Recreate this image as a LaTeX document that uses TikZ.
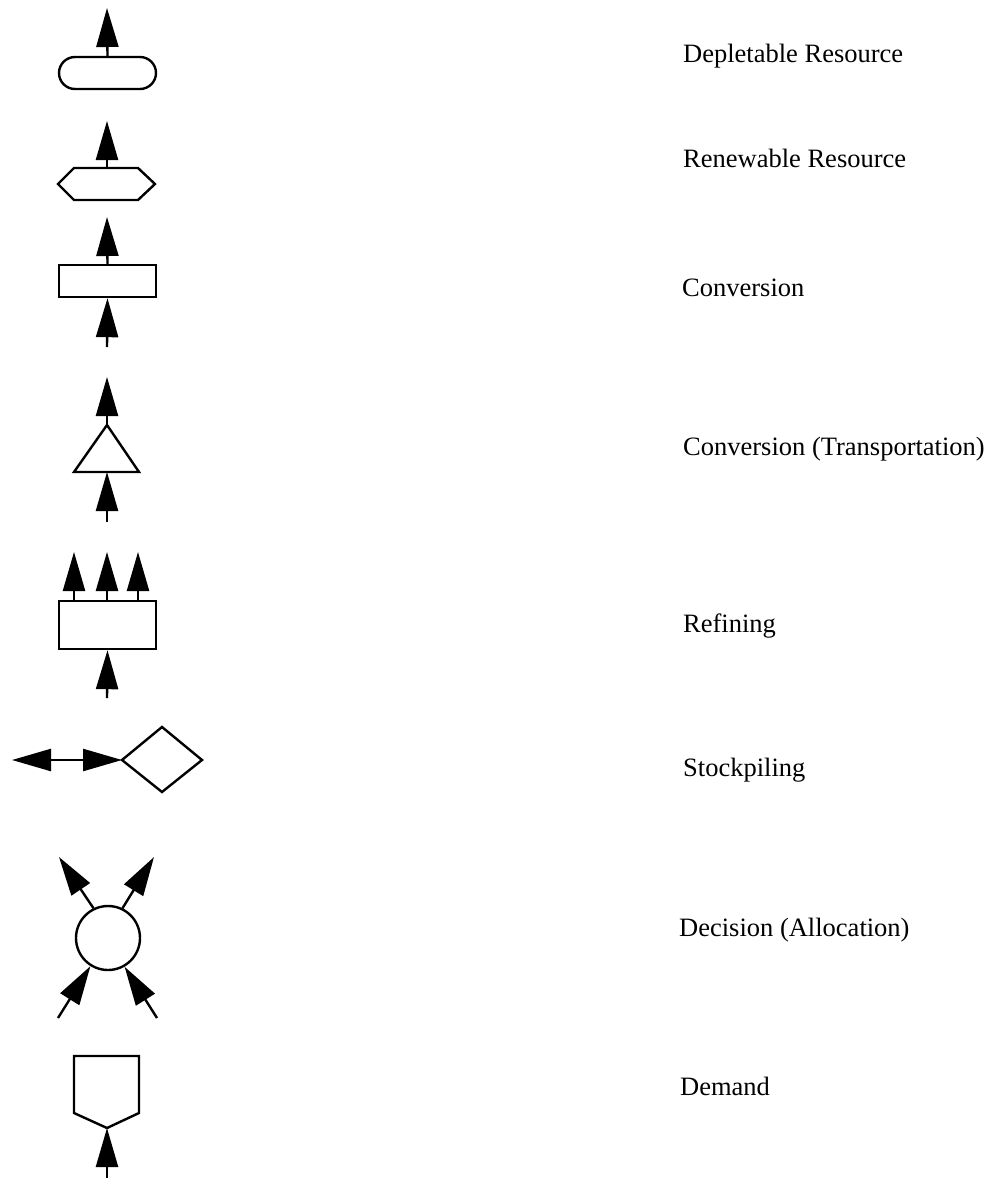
\documentclass[tikz,border=0pt]{standalone}
\usepackage{fontspec}
\setmainfont{Liberation Serif}
\usetikzlibrary{arrows.meta,shapes.misc}
\tikzset{
  shp/.style={draw=black, line width=2.4pt, fill=white, line join=miter},
  flow/.style={line width=2.4pt, -{Triangle[length=39pt,width=22pt]}},
  flowboth/.style={line width=2.4pt, {Triangle[length=39pt,width=22pt]}-{Triangle[length=39pt,width=22pt]}},
  lbl/.style={anchor=base west, inner sep=0pt, font=\fontsize{26.5}{30}\selectfont}
}
\begin{document}
\begin{tikzpicture}[x=1pt,y=-1pt]
\useasboundingbox (0,0) rectangle (993,1178);
% 1 Depletable resource
\node[shp, rounded rectangle, minimum width=97pt, minimum height=32pt, inner sep=0pt] (dep) at (107.5,73) {};
\coordinate (depout) at (107,8);
\draw[flow] (dep.north) -- (depout);
% 2 Renewable resource
\draw[shp] (58,184) -- (74,168) -- (138,168) -- (155,184) -- (138,200) -- (74,200) -- cycle;
\coordinate (rentop) at (107,168);
\coordinate (renout) at (107,121);
\draw[flow] (rentop) -- (renout);
% 3 Conversion
\node[shp, rectangle, minimum width=97pt, minimum height=32pt, inner sep=0pt] (conv) at (107.5,281) {};
\coordinate (convout) at (107,217);
\coordinate (convin) at (107,347);
\draw[flow] (conv.north) -- (convout);
\draw[flow] (convin) -- (conv.south);
% 4 Conversion (Transportation)
\draw[shp] (74,472) -- (107,425) -- (139,472) -- cycle;
\coordinate (tritop) at (107,425);
\coordinate (tribot) at (107,472);
\coordinate (triout) at (107,377);
\coordinate (triin) at (107,522);
\draw[flow] (tritop) -- (triout);
\draw[flow] (triin) -- (tribot);
% 5 Refining
\node[shp, rectangle, minimum width=97pt, minimum height=48pt, inner sep=0pt] (ref) at (107.5,625) {};
\coordinate (refoutA) at (74,552);
\coordinate (refoutB) at (107,552);
\coordinate (refoutC) at (138,552);
\coordinate (refin) at (107,698);
\draw[flow] (ref.north -| refoutA) -- (refoutA);
\draw[flow] (ref.north -| refoutB) -- (refoutB);
\draw[flow] (ref.north -| refoutC) -- (refoutC);
\draw[flow] (refin) -- (ref.south);
% 6 Stockpiling
\draw[shp] (122,760) -- (162,727) -- (202,760) -- (162,792) -- cycle;
\coordinate (stkleft) at (122,760);
\coordinate (stkend) at (12,760);
\draw[flowboth] (stkend) -- (stkleft);
% 7 Decision (Allocation)
\node[shp, circle, minimum size=64pt, inner sep=0pt] (dec) at (108,938) {};
\coordinate (decoutL) at (59,857);
\coordinate (decoutR) at (154,857);
\coordinate (decinL) at (58,1018);
\coordinate (decinR) at (157,1018);
\draw[flow] (dec.116) -- (decoutL);
\draw[flow] (dec.64) -- (decoutR);
\draw[flow] (decinL) -- (dec.238);
\draw[flow] (decinR) -- (dec.300);
% 8 Demand
\draw[shp] (74,1056) -- (139,1056) -- (139,1113) -- (107,1128) -- (74,1113) -- cycle;
\coordinate (dembot) at (107,1128);
\coordinate (demin) at (107,1178);
\draw[flow] (demin) -- (dembot);
% labels
\node[lbl] (t1) at (683,62) {Depletable Resource};
\node[lbl] (t2) at (683,167) {Renewable Resource};
\node[lbl] (t3) at (682,296) {Conversion};
\node[lbl] (t4) at (683,455) {Conversion (Transportation)};
\node[lbl] (t5) at (683,632) {Refining};
\node[lbl] (t6) at (683,776) {Stockpiling};
\node[lbl] (t7) at (679,936) {Decision (Allocation)};
\node[lbl] (t8) at (680,1095) {Demand};
\end{tikzpicture}
\end{document}
